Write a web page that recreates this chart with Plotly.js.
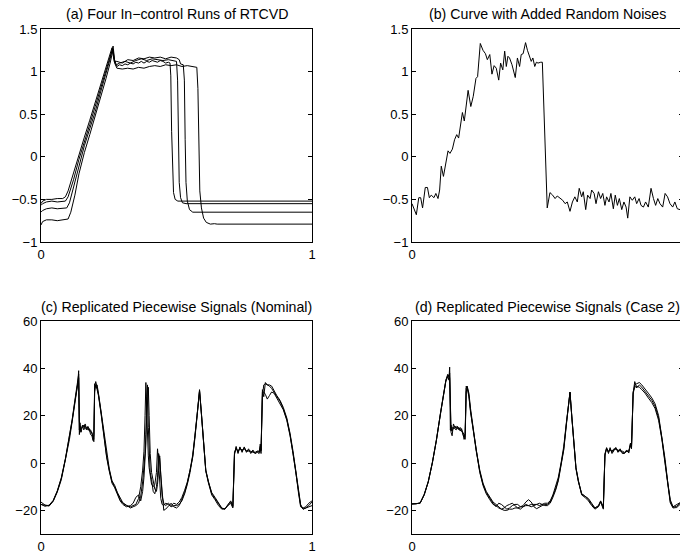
<!DOCTYPE html>
<html><head><meta charset="utf-8">
<script src="https://cdn.plot.ly/plotly-3.0.1.min.js"></script>
<style>html,body{margin:0;padding:0;overflow:hidden;background:#fff}#chart{width:720px;height:557px}</style>
</head><body><div id="chart"></div>
<script>
// ---------- Panel titles and tick labels ----------
const panelTitles = ["(a) Four In\u2212control Runs of RTCVD", "(b) Curve with Added Random Noises",
  "(c) Replicated Piecewise Signals (Nominal)", "(d) Replicated Piecewise Signals (Case 2)"];
const xTickVals = [0, 1];
const xTickText = ["0", "1"];
const yTickValsTop = [-1, -0.5, 0, 0.5, 1, 1.5];
const yTickTextTop = ["\u22121", "\u22120.5", "0", "0.5", "1", "1.5"];
const yTickValsBottom = [-20, 0, 20, 40, 60];
const yTickTextBottom = ["\u221220", "0", "20", "40", "60"];

// ---------- (a) Four in-control runs ----------
const a1x = [0,0.006,0.02,0.04,0.06,0.08,0.09,0.10,0.12,0.14,0.16,0.18,0.20,0.22,0.24,0.252,0.262,0.27,0.28,0.29,0.30,0.31,0.32,0.33,0.34,0.35,0.36,0.37,0.38,0.39,0.40,0.41,0.42,0.43,0.44,0.45,0.46,0.47,0.476,0.479,0.482,0.485,0.489,0.495,0.505,0.54,1];
const a1y = [-0.55,-0.52,-0.5,-0.5,-0.49,-0.49,-0.47,-0.40,-0.19,0.03,0.23,0.43,0.64,0.84,1.03,1.17,1.28,1.12,1.06,1.08,1.07,1.09,1.08,1.1,1.09,1.11,1.1,1.12,1.1,1.12,1.11,1.13,1.12,1.11,1.13,1.12,1.1,1.11,1.1,0.95,0.3,-0.2,-0.42,-0.5,-0.52,-0.52,-0.52];
const a2x = [0,0.006,0.02,0.04,0.06,0.08,0.09,0.10,0.12,0.14,0.16,0.18,0.20,0.22,0.24,0.255,0.264,0.27,0.278,0.29,0.31,0.33,0.35,0.37,0.39,0.41,0.43,0.45,0.47,0.49,0.50,0.504,0.507,0.51,0.515,0.522,0.535,1];
const a2y = [-0.57,-0.55,-0.53,-0.52,-0.53,-0.52,-0.52,-0.47,-0.27,-0.03,0.19,0.38,0.59,0.8,1.0,1.17,1.27,1.15,1.08,1.1,1.12,1.1,1.13,1.15,1.13,1.15,1.14,1.13,1.14,1.13,1.12,0.9,0.2,-0.3,-0.48,-0.54,-0.55,-0.55];
const a3x = [0,0.006,0.02,0.04,0.06,0.08,0.095,0.105,0.12,0.14,0.16,0.18,0.20,0.22,0.24,0.255,0.266,0.272,0.28,0.30,0.32,0.34,0.36,0.38,0.40,0.42,0.44,0.46,0.48,0.50,0.51,0.515,0.525,0.529,0.532,0.535,0.54,0.548,0.56,1];
const a3y = [-0.65,-0.63,-0.61,-0.6,-0.61,-0.6,-0.6,-0.54,-0.36,-0.1,0.13,0.33,0.53,0.76,0.97,1.15,1.3,1.12,1.12,1.1,1.14,1.13,1.16,1.15,1.17,1.16,1.17,1.15,1.17,1.16,1.14,1.09,1.08,0.9,0.2,-0.3,-0.52,-0.62,-0.65,-0.65];
const a4x = [0,0.006,0.02,0.04,0.06,0.08,0.09,0.10,0.11,0.125,0.14,0.16,0.18,0.20,0.22,0.24,0.255,0.266,0.272,0.28,0.30,0.32,0.34,0.36,0.38,0.40,0.42,0.44,0.46,0.48,0.50,0.52,0.54,0.56,0.575,0.579,0.582,0.586,0.592,0.60,0.61,0.625,0.64,0.65,1];
const a4y = [-0.8,-0.76,-0.74,-0.74,-0.75,-0.74,-0.74,-0.73,-0.65,-0.45,-0.2,0.05,0.26,0.47,0.69,0.92,1.1,1.26,1.1,1.04,1.03,1.04,1.03,1.05,1.04,1.06,1.07,1.06,1.08,1.07,1.08,1.06,1.07,1.06,1.05,0.8,0.0,-0.4,-0.6,-0.72,-0.77,-0.79,-0.785,-0.79,-0.79];

// ---------- (b) Curve with added random noises ----------
const bx = [0,0.016,0.025,0.032,0.039,0.049,0.057,0.064,0.071,0.081,0.088,0.096,0.102,0.108,0.116,0.123,0.133,0.140,0.149,0.157,0.165,0.172,0.180,0.186,0.193,0.200,0.207,0.217,0.226,0.236,0.242,0.252,0.262,0.271,0.278,0.287,0.295,0.303,0.311,0.320,0.327,0.335,0.342,0.348,0.354,0.360,0.369,0.381,0.389,0.397,0.403,0.410,0.419,0.426,0.434,0.440,0.446,0.453,0.459,0.465,0.475,0.481,0.499,0.509,0.519,0.528,0.536,0.546,0.556,0.565,0.573,0.583,0.592,0.601,0.610,0.617,0.626,0.632,0.641,0.648,0.657,0.663,0.672,0.679,0.688,0.696,0.704,0.712,0.718,0.727,0.734,0.743,0.750,0.758,0.765,0.774,0.782,0.790,0.796,0.804,0.813,0.822,0.829,0.838,0.845,0.854,0.862,0.872,0.882,0.891,0.899,0.907,0.915,0.925,0.934,0.943,0.952,0.962,0.970,0.979,0.989,1.0];
const by = [-0.55,-0.68,-0.48,-0.48,-0.60,-0.36,-0.36,-0.48,-0.45,-0.48,-0.43,-0.49,-0.39,-0.11,-0.23,-0.10,0.07,0.04,0.09,0.20,0.26,0.22,0.37,0.52,0.42,0.58,0.78,0.59,0.71,0.92,0.94,1.33,1.25,1.21,1.14,1.20,0.97,1.07,1.04,0.90,1.10,1.02,1.24,1.06,1.18,1.16,1.08,0.93,1.16,1.06,1.20,1.21,1.34,1.25,1.18,1.12,1.16,1.06,1.11,1.10,1.11,1.11,-0.60,-0.42,-0.45,-0.49,-0.46,-0.49,-0.51,-0.55,-0.53,-0.64,-0.53,-0.47,-0.53,-0.37,-0.47,-0.41,-0.62,-0.45,-0.49,-0.39,-0.43,-0.55,-0.41,-0.49,-0.43,-0.57,-0.47,-0.53,-0.43,-0.61,-0.45,-0.57,-0.49,-0.62,-0.53,-0.59,-0.72,-0.47,-0.51,-0.47,-0.55,-0.49,-0.57,-0.59,-0.53,-0.59,-0.37,-0.49,-0.57,-0.49,-0.55,-0.59,-0.43,-0.47,-0.55,-0.59,-0.53,-0.61,-0.62,-0.55];

// ---------- (c) Replicated piecewise signals (nominal) ----------
const cx = [0,0.015,0.03,0.045,0.06,0.075,0.09,0.105,0.115,0.125,0.132,0.136,0.139,0.1415,0.144,0.148,0.153,0.158,0.163,0.168,0.173,0.178,0.183,0.188,0.192,0.195,0.198,0.202,0.207,0.212,0.222,0.232,0.242,0.252,0.262,0.272,0.282,0.292,0.302,0.315,0.33,0.34,0.35,0.36,0.368,0.375,0.38,0.384,0.387,0.39,0.393,0.396,0.399,0.403,0.408,0.414,0.42,0.426,0.43,0.434,0.438,0.442,0.447,0.453,0.46,0.47,0.48,0.49,0.5,0.51,0.52,0.53,0.54,0.55,0.56,0.568,0.576,0.585,0.592,0.6,0.608,0.618,0.63,0.642,0.655,0.667,0.679,0.69,0.7,0.708,0.714,0.72,0.727,0.734,0.742,0.75,0.758,0.766,0.774,0.782,0.79,0.798,0.805,0.809,0.812,0.817,0.822,0.828,0.835,0.843,0.851,0.86,0.87,0.882,0.894,0.907,0.919,0.93,0.94,0.95,0.958,0.967,0.977,0.988,1.0];
const c1y = [-16.5,-17.8,-18,-16,-12,-6.5,1.5,10.5,18,26,32,34,39,14,17,13,16,15,16.5,14.5,15,13.5,14,12.5,11,10,32,34.4,32,29,21,11,3,-3,-8,-10,-13,-15.5,-17,-18,-18.5,-18,-17.5,-15,-10,-3,5,20,34,22,10,3,-2,-6,-9,-10,-9,-4,6,0,-10,-15,-17.5,-18,-17,-17.5,-18.5,-18,-18,-17.5,-16,-13,-9,-4,3,11,20,31,21,7,-3,-8,-13,-15,-17.5,-19.2,-19.5,-17.5,-16.5,-18.5,4,6.5,4.5,6.5,5,6.5,5,5.5,4.5,5,4,5,4.5,8,5,31,28,34,33,33,32.5,30.5,28.5,26.5,23.5,19,12.5,5,-3,-12,-17.5,-19.5,-19,-18,-16.5];
const c2y = [-17.5,-18,-18.2,-16.2,-12.3,-7,1,10,17.5,25.5,31,33,36,12,15,14.5,15,16,15,14,15.5,14,13,13,10,9,30,33,31,28.5,20.5,10.5,2.5,-3.5,-8.5,-10.5,-13.5,-16,-17.5,-18.5,-18,-17,-14.5,-13.5,-16,-12,-6,0,8,28,33,15,2,-4,-7,-12,-13,-10,-6,4,2,-8,-14,-17,-18,-17,-18,-17,-17.5,-16.5,-14.5,-11.5,-8,-3,3.5,11.5,20.5,30.5,20.5,7.5,-3,-8,-12.5,-14.5,-17,-19,-19.5,-17.5,-16,-18,4.5,6,5,6,5.5,6,5,5,5,4.5,4.5,5,5,6,4,30,30,29,27,28.5,30,29.5,27.5,25.5,22.5,18,11.5,4,-4,-13,-18,-19.5,-19,-18.5,-18];
const c3y = [-17.5,-18.3,-17.8,-15.8,-11.8,-6.2,1.8,10.8,18.3,26.5,33,35,37.5,18,13,15,15.5,14,15.5,15,14,14.5,12,11.5,9.5,12,33.5,32,33,29.5,21.5,11.5,3.5,-2.5,-7.5,-9.5,-12.5,-15,-16.8,-17.8,-19,-18.5,-18,-17,-14,-8,-2,4,12,20,28,32,20,4,-4,-8,-11,-12,-9,-3,3,-5,-12,-20,-19.5,-18,-17,-18.5,-19,-18,-15.5,-12.5,-8.5,-3.5,2.5,10.5,19.5,30.5,21,7,-3.5,-8.5,-13.5,-15.5,-18,-19.5,-19.3,-18,-17,-19,3.5,7,4,6.8,4.5,6.8,4.5,6,4,5.5,4,4.5,4,7,5.5,28,33,33.5,33,32.5,31.5,30,28,26,23,18.5,12,4.5,-3.5,-12.5,-18.5,-19,-18.5,-17,-16];

// ---------- (d) Replicated piecewise signals (case 2) ----------
const dx = [0,0.015,0.03,0.045,0.06,0.075,0.09,0.105,0.115,0.125,0.132,0.136,0.139,0.1415,0.144,0.148,0.153,0.158,0.163,0.168,0.173,0.178,0.183,0.188,0.192,0.196,0.2,0.204,0.21,0.216,0.225,0.237,0.25,0.262,0.274,0.287,0.299,0.31,0.32,0.33,0.34,0.35,0.36,0.37,0.38,0.39,0.40,0.41,0.42,0.43,0.44,0.45,0.46,0.47,0.48,0.49,0.5,0.51,0.52,0.53,0.54,0.55,0.56,0.57,0.577,0.583,0.59,0.598,0.605,0.614,0.626,0.638,0.651,0.663,0.675,0.688,0.696,0.706,0.712,0.718,0.725,0.731,0.738,0.745,0.752,0.76,0.768,0.776,0.784,0.792,0.8,0.806,0.81,0.816,0.822,0.829,0.839,0.848,0.86,0.872,0.885,0.897,0.91,0.922,0.934,0.944,0.953,0.963,0.977,0.989,1.0];
const d1y = [-17.3,-17.3,-17,-13.5,-8,0,9.5,21,28,35,37,35,40.5,15,13,11.5,16.5,15,15.5,14.5,15,14,13.5,12.5,10,11,31.5,32.5,28.5,22,14,5,-3.5,-9,-12.5,-15,-17,-18.5,-17,-17.5,-18.5,-19.5,-19,-18,-17.5,-17.5,-18.5,-18,-16.5,-15.5,-16.5,-18.5,-19.3,-18.5,-18,-17.5,-17.5,-16.5,-14,-11,-7,-1,6,17,25,30,19,7.5,-2,-7.5,-13,-14,-15.5,-17.5,-19,-18.3,-16.2,-19,3.5,6.3,4.5,6,4.5,5.5,6.3,5,5.5,4.5,4.2,5,4.8,8.4,6.5,29.6,34.4,31.7,33,32,30.3,28.5,26.5,24,19,10.6,0.7,-9.2,-16.2,-18.7,-18.3,-17,-16.5];
const d2y = [-17.3,-17.3,-17,-13.5,-8,0,9.5,21,28,34.5,36.5,37,36,17,13.5,15,14.5,15.5,14.5,15.5,14,15,14,13,12,10,30,32,29.5,23,15,5.5,-3,-8.5,-12,-14.5,-16.5,-17.5,-18.5,-19.5,-19,-18,-17.5,-17,-18,-19,-19.5,-18.5,-17.5,-18,-18.5,-18,-17.5,-18,-17.5,-17,-17,-16,-13.5,-10,-6,0,7,17.5,25.5,29.5,19.5,8,-2,-7.5,-13.5,-14.5,-16,-18,-19.5,-18.5,-16.5,-19.5,4,6,5,5.5,5,6,5.8,5.5,5,5,4.5,4.8,5.2,7.5,6,30,32,32.5,32,31,29.5,27.5,25.5,23,18,10,0,-10,-16.8,-19,-18.8,-17.5,-17];
const d3y = [-17.3,-17.3,-16.8,-13.2,-7.8,0.2,9.8,21.3,28.5,35,37.5,36.5,38,14,16,13.5,15,14.5,14,15,14.5,13.5,14.5,12,11,12.5,32.5,31.5,28,21.5,14.5,4.5,-4,-9.5,-13,-15.5,-17.5,-18,-19,-19.5,-20,-20,-19.5,-19.5,-19,-19,-18.5,-18.5,-18,-18,-17.5,-17.5,-17.5,-17,-17.5,-18,-18,-17,-14.5,-11.5,-7.5,-1.5,5.5,16.5,24.5,30,19,7,-2.5,-8,-13,-14,-15,-17,-19,-18,-16,-18.5,3,6.5,4,6.5,4,5.2,6.6,4.5,6,4,4,5.5,4.2,8,7,29,33,33.5,34,33,31,29.5,27.5,25,20,11.5,1.5,-8.5,-15.5,-18.5,-17.5,-16.5,-16];

// ---------- Figure ----------
const W = 720, H = 557;
const FONT = "Liberation Sans, Arial, Helvetica, sans-serif";
const line = {color: "#000", width: 1};
function tr(x, y, xa, ya) { return {x: x, y: y, type: "scatter", mode: "lines", line: line, xaxis: xa, yaxis: ya, hoverinfo: "skip"}; }
const data = [
  tr(a1x, a1y, "x", "y"), tr(a2x, a2y, "x", "y"), tr(a3x, a3y, "x", "y"), tr(a4x, a4y, "x", "y"),
  tr(bx, by, "x2", "y2"),
  tr(cx, c1y, "x3", "y3"), tr(cx, c2y, "x3", "y3"), tr(cx, c3y, "x3", "y3"),
  tr(dx, d1y, "x4", "y4"), tr(dx, d2y, "x4", "y4"), tr(dx, d3y, "x4", "y4")
];
const leftDom = [41 / W, 312 / W], rightDom = [412 / W, 683 / W];
const topDom = [1 - 242 / H, 1 - 29 / H], botDom = [1 - 534 / H, 1 - 321 / H];
function ax(extra) {
  return Object.assign({showline: true, linecolor: "#000", linewidth: 1, mirror: "ticks", ticks: "inside",
    ticklen: 4, tickcolor: "#000", tickwidth: 1, showgrid: false, zeroline: false,
    tickfont: {family: FONT, size: 13, color: "#000"}, fixedrange: true}, extra);
}
function xa(dom, anchor) { return ax({domain: dom, anchor: anchor, range: [0, 1], tickmode: "array", tickvals: xTickVals, ticktext: xTickText}); }
function yaT(dom, anchor) { return ax({domain: dom, anchor: anchor, range: [-1, 1.5], tickmode: "array", tickvals: yTickValsTop, ticktext: yTickTextTop}); }
function yaB(dom, anchor) { return ax({domain: dom, anchor: anchor, range: [-30, 60], tickmode: "array", tickvals: yTickValsBottom, ticktext: yTickTextBottom}); }
const doms = [[leftDom, topDom], [rightDom, topDom], [leftDom, botDom], [rightDom, botDom]];
const annotations = panelTitles.map((t, i) => ({
  text: t, xref: "paper", yref: "paper", x: (doms[i][0][0] + doms[i][0][1]) / 2, y: doms[i][1][1],
  xanchor: "center", yanchor: "bottom", yshift: 4.5, showarrow: false, font: {family: FONT, size: 14.2, color: "#000"}
}));
const layout = {
  width: W, height: H, margin: {l: 0, r: 0, t: 0, b: 0}, showlegend: false,
  paper_bgcolor: "#fff", plot_bgcolor: "#fff",
  xaxis: xa(leftDom, "y"), yaxis: yaT(topDom, "x"),
  xaxis2: xa(rightDom, "y2"), yaxis2: yaT(topDom, "x2"),
  xaxis3: xa(leftDom, "y3"), yaxis3: yaB(botDom, "x3"),
  xaxis4: xa(rightDom, "y4"), yaxis4: yaB(botDom, "x4"),
  annotations: annotations
};
Plotly.newPlot("chart", data, layout, {displayModeBar: false, staticPlot: true});
</script></body></html>
